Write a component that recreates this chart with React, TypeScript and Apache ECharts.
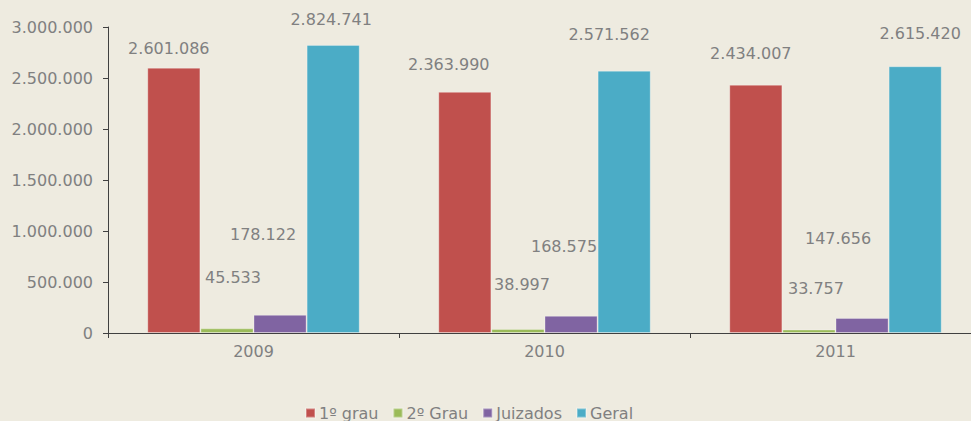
import React, { useEffect, useRef } from "react";
import * as echarts from "echarts";

const categories = ["2009", "2010", "2011"];
const seriesNames = ["1º grau", "2º Grau", "Juizados", "Geral"];
const primeiroGrau = [2601086, 2363990, 2434007];
const segundoGrau = [45533, 38997, 33757];
const juizados = [178122, 168575, 147656];
const geral = [2824741, 2571562, 2615420];
const yTicks = [0, 500000, 1000000, 1500000, 2000000, 2500000, 3000000];

const colors = ["#C0504D", "#9BBB59", "#8064A2", "#4BACC6"];
// label offsets [dx, dy] per series per category (layout only)
const labelOffsets = [
  [[-5, -6], [-16, -14], [-5, -18]],
  [[6, -38], [4, -32], [7, -28]],
  [[-17, -67], [-7, -56], [-24, -66]],
  [[-2, -12], [-15, -23], [5, -20]],
];

const fmt = (v: number) => String(v).replace(/\B(?=(\d{3})+(?!\d))/g, ".");
const FONT = "DejaVu Sans";
const GRAY = "#808080";

export default function App() {
  const ref = useRef<HTMLDivElement>(null);
  useEffect(() => {
    if (!ref.current) return;
    const chart = echarts.init(ref.current, undefined, { renderer: "svg" });
    const all = [primeiroGrau, segundoGrau, juizados, geral];
    chart.setOption({
      animation: false,
      backgroundColor: "#EEEBE0",
      textStyle: { fontFamily: FONT },
      grid: { left: 108, width: 873, top: 27, bottom: 88, outerBoundsMode: "none", containLabel: false },
      legend: {
        data: seriesNames,
        left: 305,
        top: 405,
        icon: "rect",
        itemWidth: 9,
        itemHeight: 9,
        itemGap: 14,
        padding: 0,
        textStyle: { color: GRAY, fontSize: 16, fontFamily: FONT, padding: [0, 0, 0, -1] },
      },
      xAxis: {
        type: "category",
        data: categories,
        axisLine: { lineStyle: { color: "#404040", width: 1 } },
        axisTick: { show: true, length: 5, lineStyle: { color: "#404040" } },
        axisLabel: { color: GRAY, fontSize: 16, fontFamily: FONT, margin: 10 },
      },
      yAxis: {
        type: "value",
        min: yTicks[0],
        max: yTicks[yTicks.length - 1],
        interval: yTicks[1] - yTicks[0],
        splitLine: { show: false },
        axisLine: { show: true, lineStyle: { color: "#404040", width: 1 } },
        axisTick: { show: true, length: 5, lineStyle: { color: "#404040" } },
        axisLabel: { color: GRAY, fontSize: 16, fontFamily: FONT, margin: 15, formatter: (v: number) => fmt(v) },
      },
      series: all.map((vals, si) => ({
        name: seriesNames[si],
        type: "bar",
        barGap: "0%",
        barCategoryGap: "27%",
        itemStyle: { color: colors[si], borderColor: "rgba(255,255,255,0.3)", borderWidth: 1 },
        data: vals.map((v, ci) => ({
          value: v,
          label: {
            show: true,
            position: "top",
            offset: labelOffsets[si][ci],
            color: GRAY,
            fontSize: 16,
            fontFamily: FONT,
            formatter: (p: any) => fmt(p.value),
          },
        })),
      })),
    });
    return () => chart.dispose();
  }, []);
  return (
    <div
      ref={ref}
      style={{ position: "absolute", left: 0, top: 0, width: 971, height: 421 }}
    />
  );
}
